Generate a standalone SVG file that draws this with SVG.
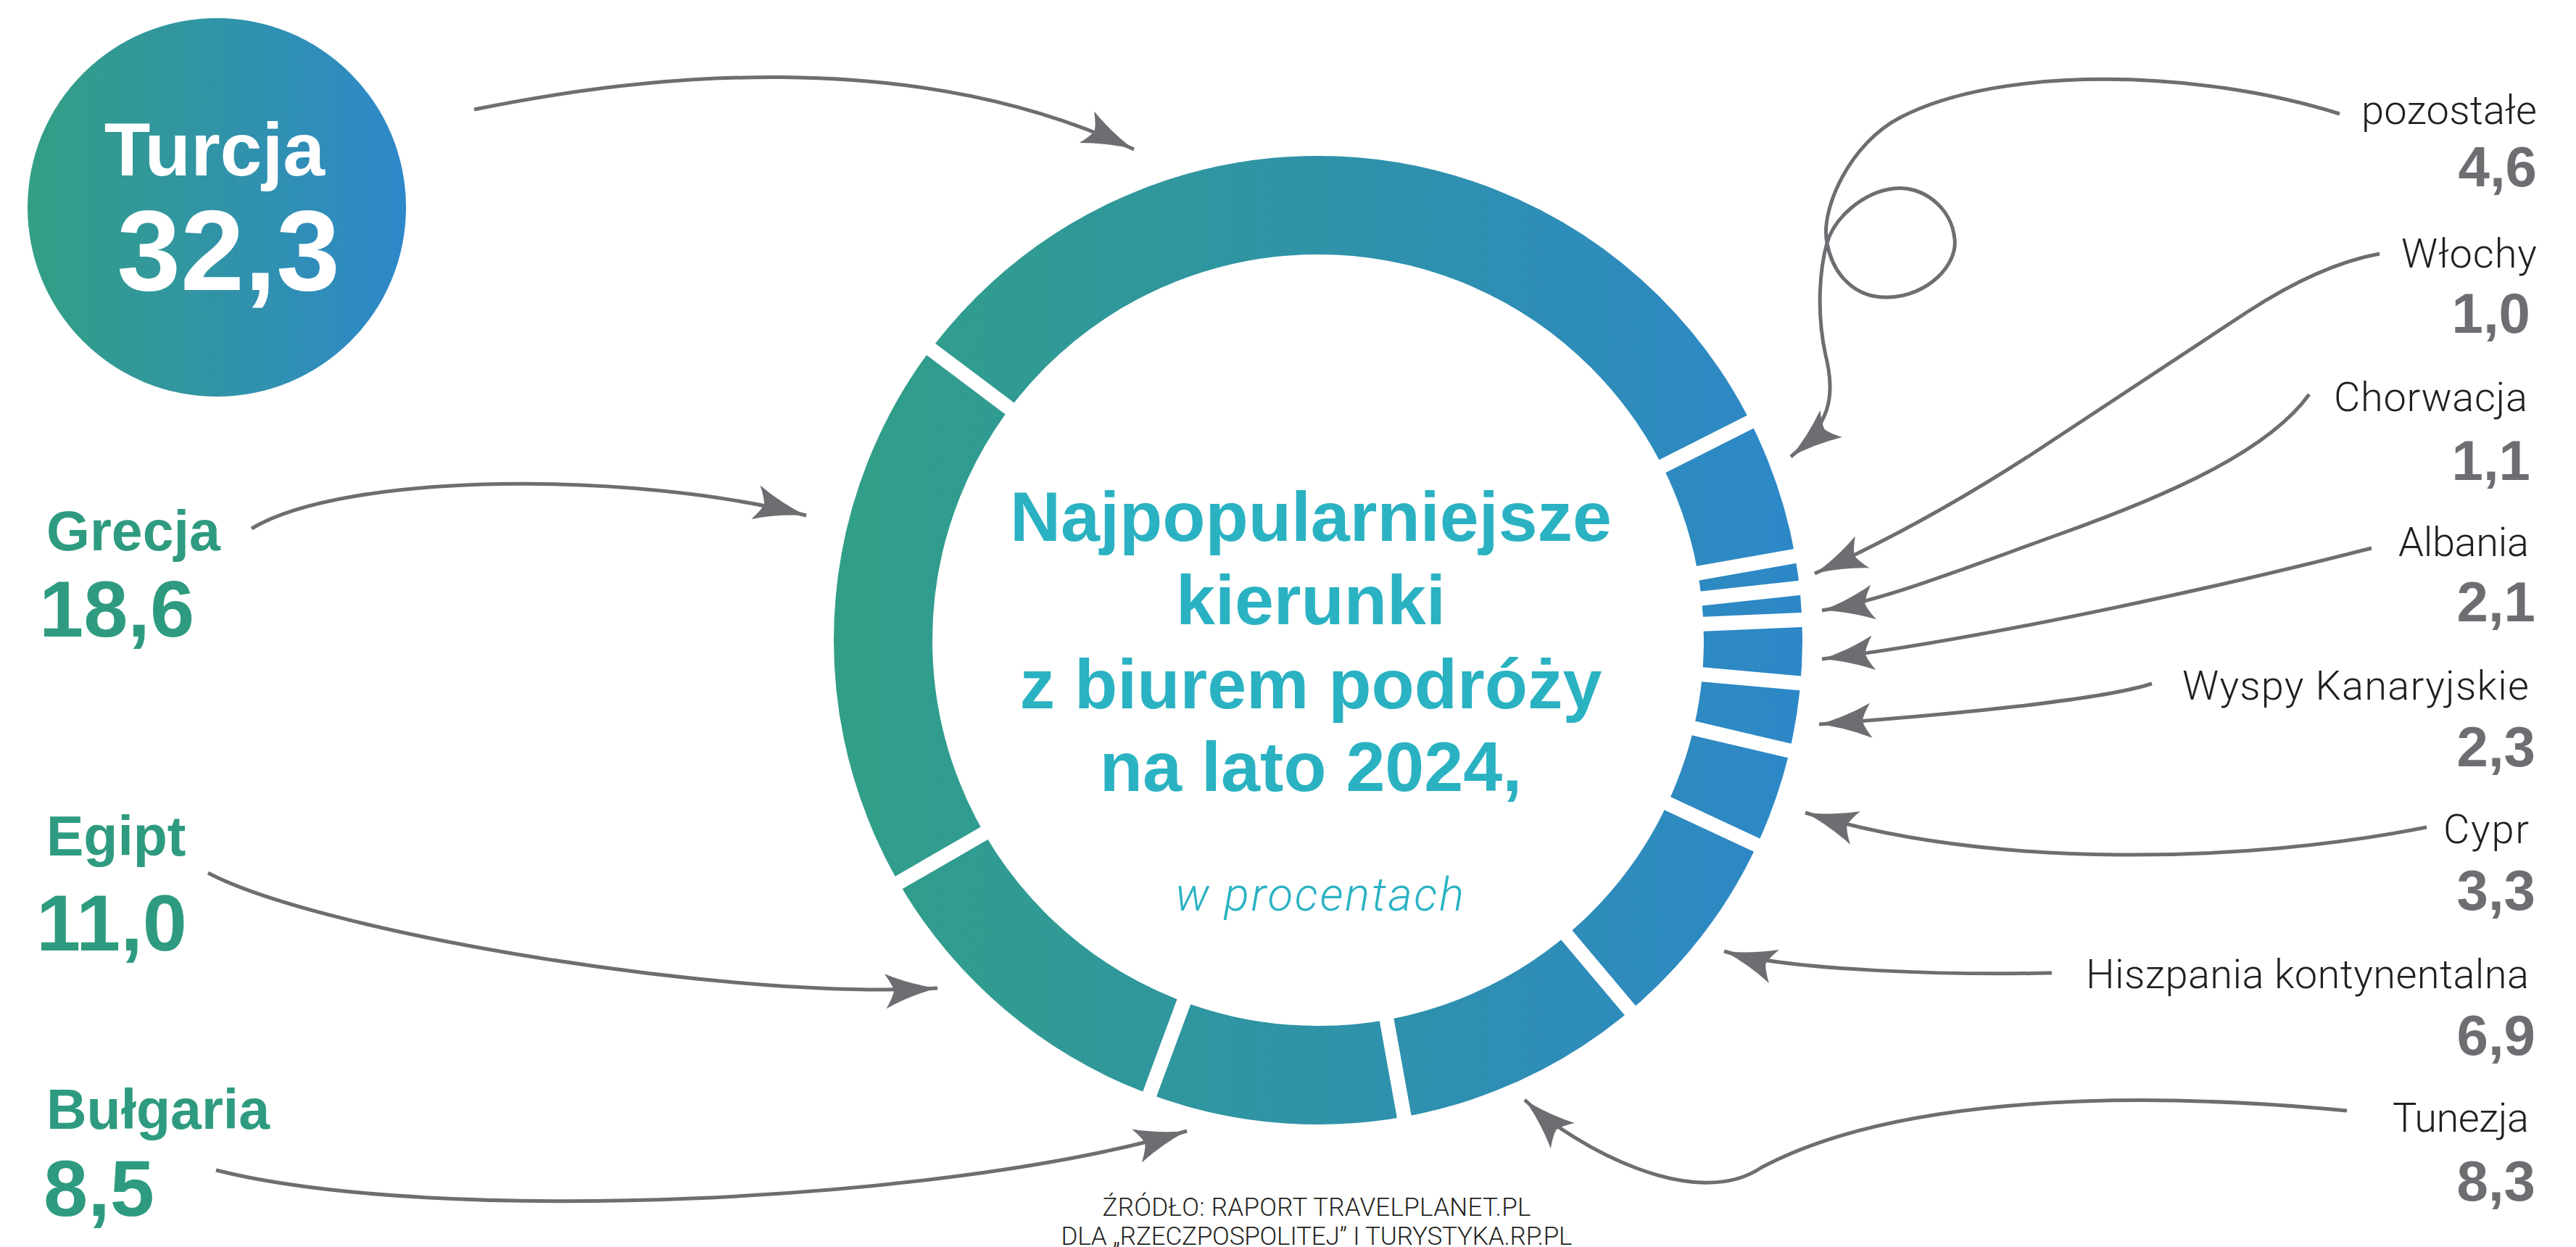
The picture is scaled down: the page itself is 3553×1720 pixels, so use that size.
<svg xmlns="http://www.w3.org/2000/svg" width="3553" height="1720" viewBox="0 0 3553 1720">
<defs>
  <linearGradient id="ringGrad" gradientUnits="userSpaceOnUse" x1="1150" y1="0" x2="2486" y2="0">
    <stop offset="0" stop-color="#319f87"/>
    <stop offset="1" stop-color="#2d87c8"/>
  </linearGradient>
  <linearGradient id="turGrad" gradientUnits="userSpaceOnUse" x1="38" y1="0" x2="560" y2="0">
    <stop offset="0" stop-color="#339f84"/>
    <stop offset="1" stop-color="#2e88ca"/>
  </linearGradient>
  <marker id="ah" markerUnits="userSpaceOnUse" viewBox="-76 -30 80 60" markerWidth="80" markerHeight="60" refX="0" refY="0" orient="auto" overflow="visible">
    <path d="M0,0 Q-36,-7 -72,-24 Q-62,-9 -60,0 Q-62,9 -72,24 Q-36,7 0,0 Z" fill="#6d6e72"/>
  </marker>
</defs>
<style>
  .b{font-family:"Liberation Sans",Arial,sans-serif;font-weight:bold}
  .lt{font-family:Roboto,"Liberation Sans",Arial,sans-serif;font-weight:300;fill:#231f20}
  .green{fill:#2e9b80}
  .gname{font-size:77px}
  .gnum{font-size:110px}
  .rname{font-size:56px;text-anchor:end}
  .rnum{font-size:78px;fill:#6d6e72;text-anchor:end}
  .title{font-size:97px;fill:#2ab2c2;text-anchor:middle}
  .gap{stroke:#fff;stroke-width:20}
  .conn{fill:none;stroke:#6d6e72;stroke-width:5;marker-end:url(#ah)}
</style>
<rect x="0" y="0" width="3553" height="1720" fill="#fff"/>

<g id="ring">
  <circle cx="1818" cy="883" r="600" fill="none" stroke="url(#ringGrad)" stroke-width="136"/>
  <g transform="translate(1818 883)">
    <line class="gap" x1="515" y1="0" x2="690" y2="0" transform="rotate(-26.8)"/>
    <line class="gap" x1="515" y1="0" x2="690" y2="0" transform="rotate(-10)"/>
    <line class="gap" x1="515" y1="0" x2="690" y2="0" transform="rotate(-6.2)"/>
    <line class="gap" x1="515" y1="0" x2="690" y2="0" transform="rotate(-2.4)"/>
    <line class="gap" x1="515" y1="0" x2="690" y2="0" transform="rotate(5.1)"/>
    <line class="gap" x1="515" y1="0" x2="690" y2="0" transform="rotate(13.2)"/>
    <line class="gap" x1="515" y1="0" x2="690" y2="0" transform="rotate(25.04)"/>
    <line class="gap" x1="515" y1="0" x2="690" y2="0" transform="rotate(49.88)"/>
    <line class="gap" x1="515" y1="0" x2="690" y2="0" transform="rotate(79.76)"/>
    <line class="gap" x1="515" y1="0" x2="690" y2="0" transform="rotate(110.36)"/>
    <line class="gap" x1="515" y1="0" x2="690" y2="0" transform="rotate(149.96)"/>
    <line class="gap" x1="515" y1="0" x2="690" y2="0" transform="rotate(216.92)"/>
  </g>
</g>

<g id="title">
  <text class="b title" x="1808" y="746">Najpopularniejsze</text>
  <text class="b title" x="1808" y="861">kierunki</text>
  <text class="b title" x="1808" y="977">z biurem podróży</text>
  <text class="b title" x="1808" y="1091">na lato 2024,</text>
  <text x="1820" y="1256" font-family="Roboto,'Liberation Sans',Arial,sans-serif" font-weight="300" font-style="italic" font-size="64" fill="#2ab2c2" text-anchor="middle" textLength="398">w procentach</text>
</g>

<g id="turcja">
  <circle cx="299" cy="286" r="261" fill="url(#turGrad)"/>
  <text class="b" x="296" y="242" font-size="104" fill="#fff" text-anchor="middle">Turcja</text>
  <text class="b" x="315" y="400" font-size="158" fill="#fff" text-anchor="middle">32,3</text>
</g>

<g id="grecja">
  <text class="b green gname" x="64" y="759">Grecja</text>
  <text class="b green gnum" x="54" y="878">18,6</text>
</g>
<g id="egipt">
  <text class="b green gname" x="64" y="1180">Egipt</text>
  <text class="b green gnum" x="50" y="1311">11,0</text>
</g>
<g id="bulgaria">
  <text class="b green gname" x="64" y="1557">Bułgaria</text>
  <text class="b green gnum" x="60" y="1677">8,5</text>
</g>

<g id="pozostale">
  <text class="lt rname" x="3499" y="171" textLength="242">pozostałe</text>
  <text class="b rnum" x="3499" y="257">4,6</text>
</g>
<g id="wlochy">
  <text class="lt rname" x="3499" y="369" textLength="187">Włochy</text>
  <text class="b rnum" x="3490" y="459">1,0</text>
</g>
<g id="chorwacja">
  <text class="lt rname" x="3486" y="567" textLength="267">Chorwacja</text>
  <text class="b rnum" x="3490" y="662">1,1</text>
</g>
<g id="albania">
  <text class="lt rname" x="3488" y="767" textLength="180">Albania</text>
  <text class="b rnum" x="3497" y="857">2,1</text>
</g>
<g id="wyspy">
  <text class="lt rname" x="3488" y="965" textLength="478">Wyspy Kanaryjskie</text>
  <text class="b rnum" x="3497" y="1057">2,3</text>
</g>
<g id="cypr">
  <text class="lt rname" x="3488" y="1163" textLength="118">Cypr</text>
  <text class="b rnum" x="3497" y="1255">3,3</text>
</g>
<g id="hiszpania">
  <text class="lt rname" x="3488" y="1363" textLength="611">Hiszpania kontynentalna</text>
  <text class="b rnum" x="3497" y="1455">6,9</text>
</g>
<g id="tunezja">
  <text class="lt rname" x="3488" y="1561" textLength="188">Tunezja</text>
  <text class="b rnum" x="3497" y="1656">8,3</text>
</g>

<g id="source">
  <text class="lt" x="1816" y="1677" font-size="35" text-anchor="middle" textLength="591">ŹRÓDŁO: RAPORT TRAVELPLANET.PL</text>
  <text class="lt" x="1816" y="1717" font-size="35" text-anchor="middle" textLength="705">DLA „RZECZPOSPOLITEJ” I TURYSTYKA.RP.PL</text>
</g>

<g id="connectors">
  <path class="conn" d="M654,151 C880,105 1254,60 1564,206"/>
  <path class="conn" d="M347,729 C480,650 880,650 1112,711"/>
  <path class="conn" d="M287,1204 C440,1285 1000,1380 1293,1363"/>
  <path class="conn" d="M298,1614 C600,1690 1300,1660 1637,1560"/>
  <path class="conn" d="M3227,157 C3030,95 2760,90 2621,162 C2551,198 2510,290 2520,335 C2528,380 2560,412 2605,410 C2660,408 2700,365 2696,330 C2692,285 2650,255 2612,260 C2570,265 2530,300 2520,335 C2510,370 2505,430 2518,490 C2532,545 2525,585 2470,630"/>
  <path class="conn" d="M3282,350 Q3200,365 3100,430 L2800,628 Q2650,725 2503,791"/>
  <path class="conn" d="M3185,544 C3130,620 3000,680 2840,737 C2720,780 2600,828 2513,842"/>
  <path class="conn" d="M3271,756 C3100,800 2750,880 2513,909"/>
  <path class="conn" d="M2968,943 C2900,965 2700,985 2509,999"/>
  <path class="conn" d="M3347,1141 C3100,1190 2750,1200 2490,1121"/>
  <path class="conn" d="M2830,1342 C2700,1345 2470,1340 2378,1312"/>
  <path class="conn" d="M3237,1532 C2900,1500 2600,1520 2430,1610 C2340,1672 2175,1585 2103,1517"/>
</g>
</svg>
